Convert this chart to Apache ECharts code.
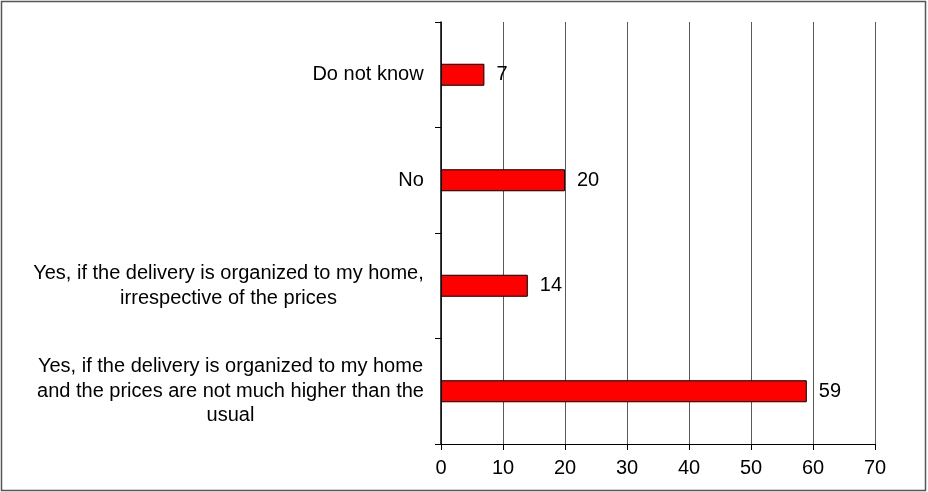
<!DOCTYPE html>
<html>
<head>
<meta charset="utf-8">
<script src="https://cdn.jsdelivr.net/npm/echarts@6/dist/echarts.min.js"></script>
<style>
  html, body { margin: 0; padding: 0; background: #fff; }
  #chart { width: 928px; height: 492px; }
</style>
</head>
<body>
<div id="chart"></div>
<script>
// categories bottom-up, the way a category y axis lists them
var categories = [
  'Yes, if the delivery is organized to my home\nand the prices are not much higher than the\nusual',
  'Yes, if the delivery is organized to my home,\nirrespective of the prices',
  'No',
  'Do not know'
];
var values = [59, 14, 20, 7];
var xTicks = { min: 0, max: 70, interval: 10 };

var FONT = '"Liberation Sans", Arial, sans-serif';
var FS = 20;

// measure the widest line of each label so lines can be centred under each other
var ctx = document.createElement('canvas').getContext('2d');
ctx.font = FS + 'px ' + FONT;
var rich = {};
var labelKey = {};
categories.forEach(function (cat, i) {
  var w = 0;
  cat.split('\n').forEach(function (line) {
    w = Math.max(w, ctx.measureText(line).width);
  });
  rich['c' + i] = { width: Math.ceil(w), align: 'center', fontSize: FS, lineHeight: 24.5, color: '#000', fontFamily: FONT };
  labelKey[cat] = 'c' + i;
});

var chart = echarts.init(document.getElementById('chart'), null, { renderer: 'canvas' });
chart.setOption({
  animation: false,
  backgroundColor: '#fff',
  textStyle: { fontFamily: FONT },
  graphic: [
    {
      type: 'rect',
      shape: { x: 1.5, y: 1.5, width: 924, height: 489 },
      style: { fill: null, stroke: '#555', lineWidth: 1.5 },
      silent: true
    }
  ],
  grid: {
    left: 441,
    right: 53,
    top: 22,
    bottom: 48
  },
  xAxis: {
    type: 'value',
    min: xTicks.min,
    max: xTicks.max,
    interval: xTicks.interval,
    axisLine: { show: true, lineStyle: { color: '#000', width: 1 } },
    axisTick: { show: true, length: 6, lineStyle: { color: '#000' } },
    axisLabel: { color: '#000', fontSize: FS, margin: 14, fontFamily: FONT },
    splitLine: { show: true, lineStyle: { color: '#5a5a5a', width: 1 } }
  },
  yAxis: {
    type: 'category',
    data: categories,
    axisLine: { show: true, lineStyle: { color: '#000', width: 1.5 } },
    axisTick: { show: true, length: 6, inside: false, lineStyle: { color: '#000' } },
    axisLabel: {
      margin: 17,
      fontSize: FS,
      lineHeight: 24.5,
      color: '#000',
      formatter: function (value) {
        var k = labelKey[value];
        return value.split('\n').map(function (line) {
          return '{' + k + '|' + line + '}';
        }).join('\n');
      },
      rich: rich
    }
  },
  series: [
    {
      type: 'bar',
      data: values,
      barWidth: 22,
      itemStyle: { color: '#ff0000', borderColor: '#000', borderWidth: 1 },
      label: {
        show: true,
        position: 'right',
        distance: 12,
        color: '#000',
        fontSize: FS,
        fontFamily: FONT
      }
    }
  ]
});
</script>
</body>
</html>
